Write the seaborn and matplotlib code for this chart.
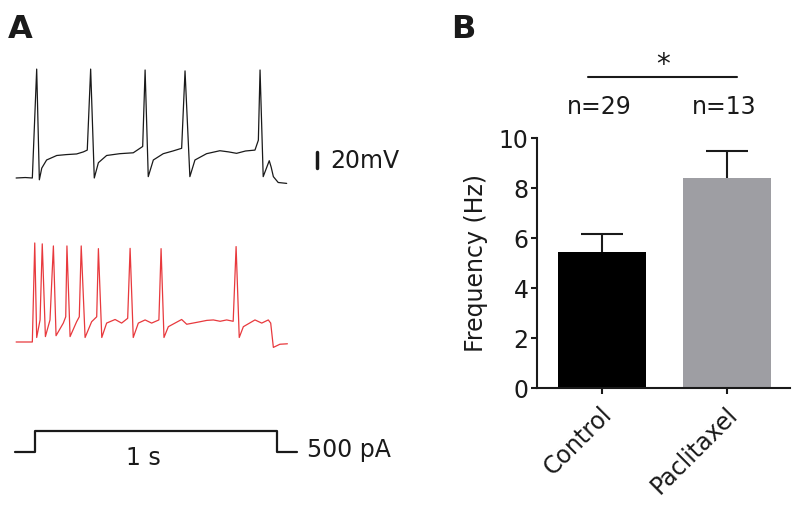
import numpy as np
import pandas as pd
import seaborn as sns
import matplotlib.pyplot as plt
from matplotlib.transforms import ScaledTranslation

sns.set_theme(style="white")
plt.rcParams['font.family'] = ['DejaVu Sans']
plt.rcParams['text.color'] = 'k'
plt.rcParams['axes.labelcolor'] = 'k'

# ---- panel B: firing frequency
groups = ['Control', 'Paclitaxel']
freq_mean = [5.44, 8.42]
freq_sem = [0.73, 1.07]
n_cells = [29, 13]
bar_colors = ['#000000', '#9e9ea3']

# ---- panel A: example traces (ms from step onset, mV)
ctrl_t = [-78, -40, -11, 7, 18, 28, 48, 90, 130, 172, 200, 216, 230, 245, 262, 296,
          350, 406, 445, 455, 468, 489, 530, 570, 606, 620, 640, 661, 709, 764, 800,
          833, 870, 909, 923, 930, 943, 955, 968, 976, 985, 1005, 1040]
ctrl_v = [-60, -59.5, -60, 61, -62, -49, -40, -35, -34, -33.3, -31, -29, 61, -60, -43, -35,
          -33, -32, -25, 60, -58.5, -40, -33, -30, -27, 59, -58.5, -40, -33, -29.7, -31,
          -32.6, -30, -29, -18, 60, -58.5, -50, -40.8, -48, -58.5, -65, -66]

ptx_t = [-78, -11, -1, 7, 21, 30, 43, 62, 76, 87, 117, 127, 132, 145, 172, 183, 191,
         207, 234, 255, 262, 276, 296, 331, 358, 383, 393, 406, 427, 455, 482, 512, 521,
         533, 551, 606, 627, 682, 710, 737, 765, 792, 819, 831, 844, 861, 909, 937, 964,
         974, 985, 1012, 1043]
ptx_v = [-60, -60, 50, -55, -35.5, 49, -54, -35.5, 46.7, -53, -39, -32, 46.7, -54, -37.5, -32, 46.7,
         -55, -37.5, -32, 43.7, -55, -39, -35, -39, -33.7, 44, -55, -39, -35.5, -39, -35.5, 43.7,
         -55, -43, -35, -40.3, -37.5, -36, -35.5, -37, -35.5, -37, 46, -55, -43, -35.5, -39, -35.5,
         -39, -66, -62.5, -62]

step_t = [-83, 0, 0, 1000, 1000, 1083]
step_pa = [0, 0, 500, 500, 0, 0]

FS = 17
fig = plt.figure(figsize=(8, 5.05), dpi=100)


def px_axes(x0, y0, x1, y1):
    return fig.add_axes([x0 / 800, 1 - y1 / 505, (x1 - x0) / 800, (y1 - y0) / 505])


t_lim = (-144.6, 1508.3)

ax_k = px_axes(0, 60, 400, 195)
sns.lineplot(x=ctrl_t, y=ctrl_v, sort=False, estimator=None, color='#1a1a1a', lw=0.9, ax=ax_k)
ax_k.set_xlim(*t_lim)
ax_k.set_ylim(-78.9, 71.1)
ax_k.plot([1165, 1165], [-49, -31], color='k', lw=2.5)
ax_k.text(1219, -41, '20mV', fontsize=FS, va='center', ha='left')

ax_r = px_axes(0, 230, 400, 360)
sns.lineplot(x=ptx_t, y=ptx_v, sort=False, estimator=None, color='#e8393d', lw=0.9, ax=ax_r)
ax_r.set_xlim(*t_lim)
ax_r.set_ylim(-80, 64.4)

ax_i = px_axes(0, 410, 400, 475)
sns.lineplot(x=step_t, y=step_pa, sort=False, estimator=None, color='k', lw=1.6, ax=ax_i)
ax_i.set_xlim(*t_lim)
ax_i.set_ylim(-547.6, 1000)
ax_i.text(446, -143, '1 s', fontsize=FS, ha='center', va='center')
ax_i.text(1124, 48, '500 pA', fontsize=FS, ha='left', va='center')

for ax in (ax_k, ax_r, ax_i):
    ax.set_axis_off()

# ---- panel B bars
ax_b = px_axes(537, 138.3, 790, 388.3)
sns.barplot(x=groups, y=freq_mean, hue=groups, palette=bar_colors, width=0.7,
            saturation=1, legend=False, errorbar=None, linewidth=0, ax=ax_b)
xs = np.arange(len(groups))
tops = np.array(freq_mean) + np.array(freq_sem)
ax_b.vlines(xs, freq_mean, tops, color='k', lw=1.5, zorder=0.9)
ax_b.hlines(tops, xs - 0.165, xs + 0.165, color='k', lw=1.5, zorder=0.9)

ax_b.set_xlim(-0.52, 1.504)
ax_b.set_ylim(0, 10)
ax_b.set_yticks([0, 2, 4, 6, 8, 10])
ax_b.set_xticks(xs)
ax_b.set_xticklabels(groups, rotation=45, ha='right', va='top', rotation_mode='anchor')
sns.despine(ax=ax_b)
for s in ('left', 'bottom'):
    ax_b.spines[s].set_linewidth(1.5)
    ax_b.spines[s].set_color('k')
ax_b.tick_params(bottom=True, left=True, direction='out', length=4, width=1.5,
                 colors='k', labelsize=FS, pad=2)
ax_b.tick_params(axis='x', pad=6)
shift = ScaledTranslation(-2 / 100, 0, fig.dpi_scale_trans)
for lab in ax_b.get_xticklabels():
    lab.set_transform(lab.get_transform() + shift)
ax_b.set_ylabel('Frequency (Hz)', fontsize=FS, color='k', labelpad=7.5)
ax_b.set_xlabel('')

ax_b.plot([-0.11, 1.08], [12.45, 12.45], color='k', lw=1.5, clip_on=False)
ax_b.text(0.485, 12.6, '*', fontsize=20, ha='center', va='baseline')
for i, n in enumerate(n_cells):
    ax_b.text(i - 0.02, 11.25, f'n={n}', fontsize=FS, ha='center', va='center')

fig.text(8 / 800, 1 - 38 / 505, 'A', fontsize=23, fontweight='bold', va='baseline')
fig.text(451 / 800, 1 - 38 / 505, 'B', fontsize=23, fontweight='bold', va='baseline')

fig.savefig('out.png', dpi=100)
